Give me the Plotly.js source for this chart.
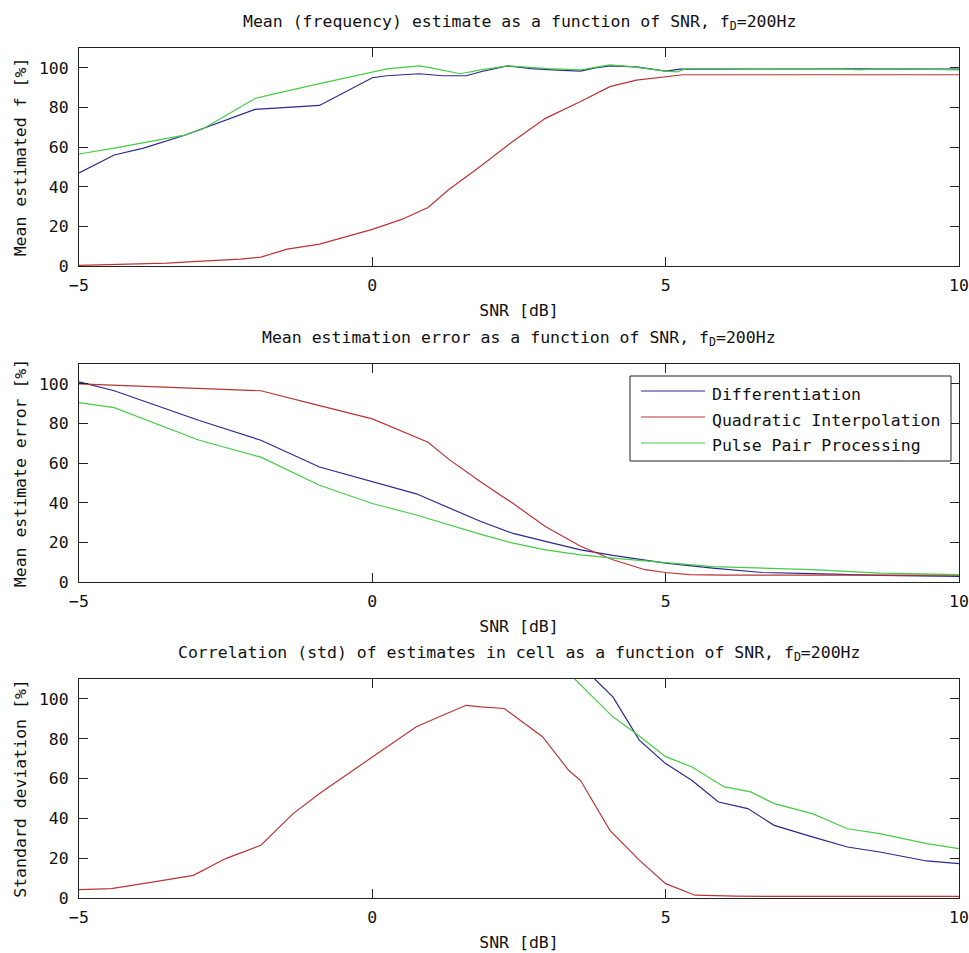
<!DOCTYPE html>
<html>
<head>
<meta charset="utf-8">
<script src="https://cdn.plot.ly/plotly-3.0.1.min.js"></script>
<style>html,body{margin:0;padding:0;background:#fff;}#chart{width:969px;height:953px;}</style>
</head>
<body>
<div id="chart"></div>
<script>
// ---------- data ----------
var seriesNames = ['Differentiation', 'Quadratic Interpolation', 'Pulse Pair Processing'];
var seriesColors = ['#2a2a8e', '#bb3436', '#46cc46'];

var titles = [
  'Mean (frequency) estimate as a function of SNR, f<sub>D</sub>=200Hz',
  'Mean estimation error as a function of SNR, f<sub>D</sub>=200Hz',
  'Correlation (std) of estimates in cell as a function of SNR, f<sub>D</sub>=200Hz'
];
var yTitles = ['Mean estimated f [%]', 'Mean estimate error [%]', 'Standard deviation [%]'];
var xTitle = 'SNR [dB]';
var xTickVals = [-5, 0, 5, 10];
var yTickVals = [0, 20, 40, 60, 80, 100];

// Panel 1: mean estimated frequency
var meanDiffX = [-5, -4.4, -3.9, -3.2, -2.0, -1.4, -0.9, 0, 0.25, 0.8, 1.2, 1.6, 1.85, 2.3, 2.7, 3.15, 3.55, 3.8, 4.05, 4.5, 5.0, 5.25, 6, 7, 8, 9, 10];
var meanDiffY = [47, 56, 59.5, 66, 79, 80, 81, 95, 96, 97, 96, 96, 98, 101, 99.6, 98.8, 98.3, 100, 101, 100.5, 98.3, 99.3, 99.5, 99.5, 99.5, 99.5, 99.3];
var meanQuadX = [-5, -4.1, -3.5, -2.9, -2.25, -1.9, -1.45, -0.9, -0.4, 0, 0.5, 0.95, 1.3, 1.85, 2.4, 2.95, 3.55, 4.05, 4.5, 5.0, 5.3, 6, 7, 8, 9, 10];
var meanQuadY = [0.3, 1, 1.5, 2.5, 3.5, 4.5, 8.5, 11, 15, 18.5, 23.5, 29.5, 38.5, 50.5, 63, 74.5, 83, 90.5, 93.8, 95.5, 96.5, 96.5, 96.5, 96.5, 96.5, 96.5];
var meanPulseX = [-5, -4.4, -3.2, -2.9, -2.0, -1.8, -0.9, 0, 0.25, 0.8, 1.0, 1.5, 1.85, 2.3, 3.0, 3.55, 4.05, 4.45, 5.0, 5.2, 5.35, 6, 7, 8, 8.3, 8.6, 9, 10];
var meanPulseY = [56.5, 59.5, 66, 69, 84.5, 86, 92, 98, 99.5, 101, 100, 97, 99, 101, 99.6, 99, 101.5, 100.5, 98.3, 98, 99.6, 99.6, 99.6, 99.5, 99, 99.5, 99.5, 99];

// Panel 2: mean estimation error
var errDiffX = [-5, -4.4, -2.95, -1.9, -0.9, 0, 0.75, 1.85, 2.4, 2.95, 3.55, 4.1, 5.0, 5.8, 6.65, 7.5, 8.65, 10];
var errDiffY = [101, 96.5, 81.5, 71.5, 58, 50.5, 44.5, 30.5, 24.5, 20.5, 16.2, 13.4, 9.5, 7, 4.8, 4.2, 3.3, 2.8];
var errQuadX = [-5, -4.05, -2.8, -1.9, -0.9, 0, 0.95, 1.3, 1.85, 2.4, 2.95, 3.55, 4.1, 4.65, 5.0, 5.4, 6, 7, 8, 9, 10];
var errQuadY = [100, 99, 97.6, 96.5, 89, 82.3, 70.5, 62, 50.5, 39.6, 28, 18, 11.2, 6.2, 4.8, 3.7, 3.5, 3.5, 3.5, 3.5, 3.5];
var errPulseX = [-5, -4.4, -2.95, -1.9, -0.9, 0, 0.75, 1.85, 2.4, 2.95, 3.55, 4.1, 5.0, 5.8, 7.5, 8.65, 10];
var errPulseY = [90.5, 88, 71.5, 63, 48.8, 39.6, 33.8, 24, 19.6, 16.2, 13.7, 12, 9.8, 7.8, 6.2, 4.5, 3.7];

// Panel 3: standard deviation
var stdDiffX = [3.79, 4.1, 4.55, 5.0, 5.45, 5.9, 6.4, 6.85, 7.5, 8.1, 8.65, 9.45, 10];
var stdDiffY = [110, 101, 79.3, 67.5, 59, 48.2, 44.9, 36.5, 30.7, 25.6, 23.1, 18.6, 17.3];
var stdQuadX = [-5, -4.45, -3.75, -3.05, -2.5, -1.9, -1.35, -0.9, -0.45, 0, 0.75, 1.2, 1.6, 1.85, 2.25, 2.9, 3.35, 3.55, 4.05, 4.55, 5.0, 5.5, 6.2, 7, 8, 9, 10];
var stdQuadY = [4.2, 4.7, 8, 11.4, 19.8, 26.5, 42.4, 52.5, 61.7, 70.9, 86, 91.8, 96.8, 96, 95.2, 81, 64, 59, 34, 19, 7.2, 1.4, 0.9, 0.8, 0.8, 0.8, 0.8];
var stdPulseX = [3.45, 4.1, 4.5, 5.0, 5.45, 6.0, 6.45, 6.85, 7.5, 8.1, 8.65, 9.45, 10];
var stdPulseY = [110, 91, 82.5, 71, 65.8, 55.8, 53.3, 47.4, 42.4, 34.8, 32.3, 27.3, 24.8];

// ---------- layout helpers ----------
var W = 969, H = 953;
var FONT = 'DejaVu Sans Mono, monospace';
var FS = 16.5;
var TXT = '#111';
function px(x) { return x / W; }
function py(y) { return (H - y) / H; }
var plotLeft = 79, plotRight = 959;
var panels = [
  {top: 48, bottom: 266},
  {top: 364, bottom: 582},
  {top: 679, bottom: 898}
];

var panelData = [
  [[meanDiffX, meanDiffY], [meanQuadX, meanQuadY], [meanPulseX, meanPulseY]],
  [[errDiffX, errDiffY], [errQuadX, errQuadY], [errPulseX, errPulseY]],
  [[stdDiffX, stdDiffY], [stdQuadX, stdQuadY], [stdPulseX, stdPulseY]]
];

var traces = [];
panelData.forEach(function (set, p) {
  set.forEach(function (xy, s) {
    traces.push({
      type: 'scatter', mode: 'lines',
      x: xy[0], y: xy[1],
      name: seriesNames[s],
      showlegend: false,
      line: {color: seriesColors[s], width: 1.2},
      xaxis: p === 0 ? 'x' : 'x' + (p + 1),
      yaxis: p === 0 ? 'y' : 'y' + (p + 1),
      hoverinfo: 'x+y+name'
    });
  });
});

var layout = {
  width: W, height: H,
  margin: {l: 0, r: 0, t: 0, b: 0},
  paper_bgcolor: '#fff', plot_bgcolor: '#fff',
  font: {family: FONT, size: FS, color: TXT},
  showlegend: false,
  annotations: [],
  shapes: []
};

panels.forEach(function (pn, i) {
  var xa = {
    domain: [px(plotLeft), px(plotRight)],
    range: [-5, 10],
    tickvals: xTickVals,
    ticktext: xTickVals.map(function (v) { return String(v).replace('-', '\u2212'); }),
    ticks: 'inside', ticklen: 9, tickwidth: 1, tickcolor: '#222',
    showline: true, linecolor: '#222', linewidth: 1, mirror: 'ticks',
    showgrid: false, zeroline: false,
    tickfont: {family: FONT, size: FS, color: TXT},
    ticklabelstandoff: 4,
    title: {text: xTitle, font: {family: FONT, size: FS, color: TXT}, standoff: 10},
    anchor: i === 0 ? 'y' : 'y' + (i + 1),
    fixedrange: true
  };
  var ya = {
    domain: [py(pn.bottom), py(pn.top)],
    range: [0, 110],
    tickvals: yTickVals,
    ticks: 'inside', ticklen: 9, tickwidth: 1, tickcolor: '#222',
    showline: true, linecolor: '#222', linewidth: 1, mirror: 'ticks',
    showgrid: false, zeroline: false,
    tickfont: {family: FONT, size: FS, color: TXT},
    ticklabelstandoff: 6,
    title: {text: yTitles[i], font: {family: FONT, size: FS, color: TXT}, standoff: 8},
    anchor: i === 0 ? 'x' : 'x' + (i + 1),
    fixedrange: true
  };
  layout[i === 0 ? 'xaxis' : 'xaxis' + (i + 1)] = xa;
  layout[i === 0 ? 'yaxis' : 'yaxis' + (i + 1)] = ya;

  layout.annotations.push({
    text: titles[i], showarrow: false,
    xref: 'paper', yref: 'paper',
    x: px((plotLeft + plotRight) / 2), y: py(pn.top - 26),
    xanchor: 'center', yanchor: 'middle',
    font: {family: FONT, size: FS, color: TXT}
  });
});

// legend (drawn in panel 2, top-right)
var lg = {left: 630, right: 951, top: 376, bottom: 461, lineX0: 641, lineX1: 705, textX: 710, rows: [391, 417, 443]};
layout.shapes.push({
  type: 'rect', xref: 'paper', yref: 'paper',
  x0: px(lg.left), x1: px(lg.right), y0: py(lg.bottom), y1: py(lg.top),
  line: {color: '#222', width: 1}, fillcolor: '#fff', layer: 'above'
});
seriesNames.forEach(function (name, s) {
  layout.shapes.push({
    type: 'line', xref: 'paper', yref: 'paper',
    x0: px(lg.lineX0), x1: px(lg.lineX1), y0: py(lg.rows[s]), y1: py(lg.rows[s]),
    line: {color: seriesColors[s], width: 1.2}, layer: 'above'
  });
  layout.annotations.push({
    text: name, showarrow: false, xref: 'paper', yref: 'paper',
    x: px(lg.textX), y: py(lg.rows[s] + 3),
    xanchor: 'left', yanchor: 'middle',
    font: {family: FONT, size: FS, color: TXT}
  });
});

Plotly.newPlot('chart', traces, layout, {displayModeBar: false, staticPlot: false});
</script>
</body>
</html>
